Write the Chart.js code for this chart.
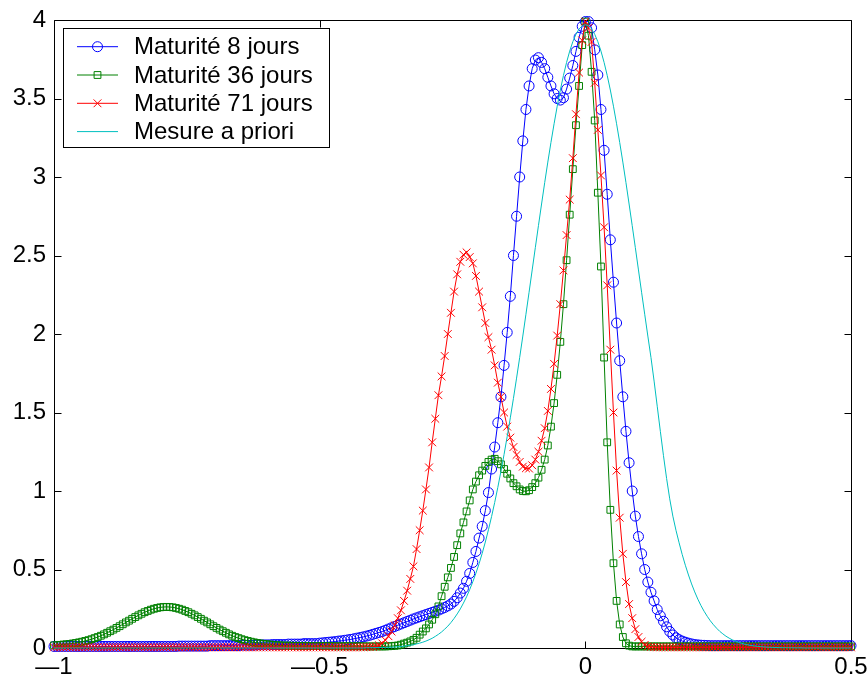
<!DOCTYPE html>
<html>
<head>
<meta charset="utf-8">
<script src="https://cdn.jsdelivr.net/npm/chart.js@4.4.0/dist/chart.umd.min.js"></script>
<style>
  html, body { margin: 0; padding: 0; background: #fff; }
  #wrap { width: 868px; height: 680px; }
</style>
</head>
<body>
<div id="wrap"><canvas id="chart" width="868" height="680"></canvas></div>
<script>
const FONT = '"Liberation Sans", Arial, Helvetica, sans-serif';

// sampling grid: 256 points from -1 to 0.5
const N = 256;
const xs = Array.from({ length: N }, (_, i) => -1 + i * 1.5 / (N - 1));

const xTicks = [-1, -0.5, 0, 0.5];
const yTicks = [0, 0.5, 1, 1.5, 2, 2.5, 3, 3.5, 4];

const seriesLabels = ['Maturité 8 jours', 'Maturité 36 jours', 'Maturité 71 jours', 'Mesure a priori'];

// Maturité 8 jours
const blue = [
  0.01, 0.01, 0.01, 0.01, 0.01, 0.01, 0.01, 0.01, 0.01, 0.01,
  0.01, 0.01, 0.01, 0.01, 0.01, 0.01, 0.01, 0.01, 0.01, 0.01,
  0.01, 0.01, 0.01, 0.01, 0.01, 0.01, 0.01, 0.01, 0.01, 0.01,
  0.01, 0.01, 0.01, 0.01, 0.01, 0.01, 0.01, 0.01, 0.01, 0.01,
  0.012, 0.012, 0.012, 0.012, 0.012, 0.012, 0.012, 0.012, 0.012, 0.012,
  0.015, 0.015, 0.015, 0.015, 0.015, 0.015, 0.015, 0.015, 0.015, 0.015,
  0.018, 0.018, 0.018, 0.018, 0.018, 0.02, 0.02, 0.02, 0.02, 0.02,
  0.022, 0.022, 0.022, 0.022, 0.022, 0.025, 0.025, 0.025, 0.025, 0.025,
  0.028, 0.028, 0.028, 0.028, 0.028, 0.031, 0.033, 0.035, 0.037, 0.039,
  0.041, 0.044, 0.046, 0.049, 0.052, 0.055, 0.059, 0.063, 0.067, 0.071,
  0.076, 0.081, 0.087, 0.093, 0.099, 0.105, 0.113, 0.121, 0.129, 0.137,
  0.145, 0.153, 0.161, 0.169, 0.177, 0.185, 0.192, 0.199, 0.206, 0.213,
  0.22, 0.227, 0.234, 0.241, 0.249, 0.258, 0.268, 0.28, 0.297, 0.32,
  0.35, 0.38, 0.425, 0.475, 0.545, 0.615, 0.70, 0.775, 0.875, 0.99,
  1.14, 1.28, 1.435, 1.60, 1.80, 2.01, 2.24, 2.50, 2.75, 3.00,
  3.23, 3.43, 3.58, 3.69, 3.745, 3.76, 3.73, 3.69, 3.635, 3.58,
  3.53, 3.50, 3.49, 3.505, 3.56, 3.63, 3.71, 3.80, 3.89, 3.96,
  3.99, 3.99, 3.95, 3.81, 3.65, 3.43, 3.17, 2.89, 2.60, 2.33,
  2.07, 1.83, 1.60, 1.38, 1.18, 1.00, 0.84, 0.71, 0.60, 0.50,
  0.42, 0.355, 0.30, 0.245, 0.205, 0.17, 0.135, 0.105, 0.083, 0.065,
  0.053, 0.044, 0.037, 0.031, 0.026, 0.022, 0.02, 0.018, 0.017, 0.016,
  0.015, 0.015, 0.015, 0.015, 0.015, 0.015, 0.015, 0.015, 0.015, 0.015,
  0.015, 0.015, 0.015, 0.015, 0.015, 0.015, 0.015, 0.015, 0.015, 0.015,
  0.015, 0.015, 0.015, 0.015, 0.015, 0.015, 0.015, 0.015, 0.015, 0.015,
  0.015, 0.015, 0.015, 0.015, 0.015, 0.015, 0.015, 0.015, 0.015, 0.015,
  0.015, 0.015, 0.015, 0.015, 0.015, 0.015
];

// Maturité 36 jours
const green = [
  0.017, 0.018, 0.020, 0.022, 0.024, 0.026, 0.029, 0.032, 0.036, 0.040,
  0.045, 0.050, 0.056, 0.063, 0.070, 0.078, 0.087, 0.097, 0.107, 0.117,
  0.128, 0.139, 0.151, 0.163, 0.174, 0.186, 0.197, 0.208, 0.218, 0.228,
  0.236, 0.244, 0.250, 0.255, 0.259, 0.261, 0.262, 0.261, 0.259, 0.255,
  0.250, 0.244, 0.236, 0.228, 0.218, 0.208, 0.197, 0.186, 0.174, 0.163,
  0.151, 0.139, 0.128, 0.117, 0.107, 0.097, 0.087, 0.078, 0.070, 0.063,
  0.056, 0.050, 0.045, 0.040, 0.036, 0.032, 0.029, 0.026, 0.024, 0.022,
  0.020, 0.018, 0.017, 0.016, 0.015, 0.015, 0.014, 0.014, 0.013, 0.013,
  0.012, 0.012, 0.012, 0.012, 0.012, 0.012, 0.012, 0.012, 0.012, 0.012,
  0.011, 0.011, 0.011, 0.011, 0.011, 0.011, 0.011, 0.011, 0.011, 0.011,
  0.01, 0.01, 0.01, 0.01, 0.01, 0.01, 0.01, 0.011, 0.012, 0.014,
  0.016, 0.021, 0.028, 0.034, 0.042, 0.052, 0.065, 0.085, 0.105, 0.125,
  0.15, 0.18, 0.215, 0.265, 0.33, 0.39, 0.45, 0.51, 0.58, 0.655,
  0.73, 0.80, 0.87, 0.94, 1.01, 1.06, 1.10, 1.13, 1.16, 1.185,
  1.20, 1.205, 1.19, 1.17, 1.14, 1.11, 1.08, 1.05, 1.03, 1.01,
  1.0, 0.998, 1.005, 1.025, 1.05, 1.085, 1.135, 1.20, 1.29, 1.41,
  1.56, 1.74, 1.95, 2.19, 2.47, 2.76, 3.05, 3.33, 3.58, 3.84,
  3.99, 3.90, 3.67, 3.36, 2.90, 2.43, 1.85, 1.31, 0.88, 0.54,
  0.30, 0.15, 0.07, 0.03, 0.015, 0.01, 0.01, 0.01, 0.01, 0.01,
  0.01, 0.01, 0.01, 0.01, 0.01, 0.01, 0.01, 0.01, 0.01, 0.01,
  0.01, 0.01, 0.01, 0.01, 0.01, 0.01, 0.01, 0.01, 0.01, 0.01,
  0.01, 0.01, 0.01, 0.01, 0.01, 0.01, 0.01, 0.01, 0.01, 0.01,
  0.01, 0.01, 0.01, 0.01, 0.01, 0.01, 0.01, 0.01, 0.01, 0.01,
  0.01, 0.01, 0.01, 0.01, 0.01, 0.01, 0.01, 0.01, 0.01, 0.01,
  0.01, 0.01, 0.01, 0.01, 0.01, 0.01, 0.01, 0.01, 0.01, 0.01,
  0.01, 0.01, 0.01, 0.01, 0.01, 0.01
];

// Maturité 71 jours
const red = [
  0.004, 0.004, 0.004, 0.004, 0.004, 0.004, 0.004, 0.004, 0.004, 0.004,
  0.004, 0.004, 0.004, 0.004, 0.004, 0.004, 0.004, 0.004, 0.004, 0.004,
  0.004, 0.004, 0.004, 0.004, 0.004, 0.004, 0.004, 0.004, 0.004, 0.004,
  0.004, 0.004, 0.004, 0.004, 0.004, 0.004, 0.004, 0.004, 0.004, 0.004,
  0.004, 0.004, 0.004, 0.004, 0.004, 0.004, 0.004, 0.004, 0.004, 0.004,
  0.004, 0.004, 0.004, 0.004, 0.004, 0.004, 0.004, 0.004, 0.004, 0.004,
  0.004, 0.004, 0.004, 0.004, 0.004, 0.004, 0.004, 0.004, 0.004, 0.004,
  0.004, 0.004, 0.004, 0.004, 0.004, 0.004, 0.004, 0.004, 0.004, 0.004,
  0.004, 0.004, 0.004, 0.004, 0.004, 0.004, 0.004, 0.004, 0.004, 0.004,
  0.004, 0.004, 0.004, 0.004, 0.004, 0.004, 0.004, 0.004, 0.004, 0.004,
  0.005, 0.006, 0.007, 0.01, 0.018, 0.03, 0.05, 0.075, 0.105, 0.145,
  0.19, 0.24, 0.30, 0.365, 0.44, 0.52, 0.63, 0.75, 0.875, 1.01,
  1.15, 1.31, 1.46, 1.61, 1.73, 1.86, 2.0, 2.135, 2.27, 2.38,
  2.46, 2.505, 2.52, 2.49, 2.45, 2.37, 2.27, 2.17, 2.07, 1.98,
  1.90, 1.80, 1.69, 1.60, 1.50, 1.41, 1.34, 1.28, 1.23, 1.185,
  1.155, 1.145, 1.143, 1.164, 1.20, 1.25, 1.32, 1.40, 1.51, 1.65,
  1.81, 1.99, 2.19, 2.405, 2.63, 2.856, 3.12, 3.40, 3.665, 3.87,
  3.99, 3.95, 3.86, 3.60, 3.30, 3.01, 2.68, 2.31, 1.90, 1.50,
  1.13, 0.83, 0.60, 0.42, 0.28, 0.19, 0.12, 0.07, 0.04, 0.02,
  0.01, 0.007, 0.005, 0.004, 0.004, 0.004, 0.004, 0.004, 0.004, 0.004,
  0.004, 0.004, 0.004, 0.004, 0.004, 0.004, 0.004, 0.004, 0.004, 0.004,
  0.004, 0.004, 0.004, 0.004, 0.004, 0.004, 0.004, 0.004, 0.004, 0.004,
  0.004, 0.004, 0.004, 0.004, 0.004, 0.004, 0.004, 0.004, 0.004, 0.004,
  0.004, 0.004, 0.004, 0.004, 0.004, 0.004, 0.004, 0.004, 0.004, 0.004,
  0.004, 0.004, 0.004, 0.004, 0.004, 0.004, 0.004, 0.004, 0.004, 0.004,
  0.004, 0.004, 0.004, 0.004, 0.004, 0.004
];

// Mesure a priori
const cyan = [
  0, 0, 0, 0, 0, 0, 0, 0, 0, 0,
  0, 0, 0, 0, 0, 0, 0, 0, 0, 0,
  0, 0, 0, 0, 0, 0, 0, 0, 0, 0,
  0, 0, 0, 0, 0, 0, 0, 0, 0, 0,
  0, 0, 0, 0, 0, 0, 0, 0, 0, 0,
  0, 0, 0, 0, 0, 0, 0, 0, 0, 0,
  0, 0, 0, 0, 0, 0, 0, 0, 0, 0,
  0, 0, 0, 0, 0, 0, 0, 0, 0, 0,
  0, 0, 0, 0, 0, 0, 0, 0, 0, 0,
  0, 0, 0, 0, 0, 0, 0, 0, 0, 0,
  0.0015, 0.0018, 0.0022, 0.0026, 0.003, 0.0035, 0.004, 0.0045, 0.005, 0.006,
  0.0078, 0.0096, 0.0118, 0.0144, 0.0175, 0.021, 0.026, 0.031, 0.037, 0.044,
  0.0525, 0.062, 0.074, 0.087, 0.102, 0.120, 0.139, 0.162, 0.188, 0.217,
  0.249, 0.286, 0.326, 0.372, 0.422, 0.477, 0.537, 0.603, 0.675, 0.753,
  0.837, 0.927, 1.023, 1.125, 1.233, 1.347, 1.466, 1.590, 1.719, 1.851,
  1.987, 2.126, 2.266, 2.408, 2.550, 2.690, 2.828, 2.964, 3.095, 3.220,
  3.339, 3.451, 3.554, 3.647, 3.730, 3.802, 3.862, 3.909, 3.943, 3.963,
  3.97, 3.963, 3.943, 3.909, 3.862, 3.802, 3.730, 3.647, 3.554, 3.451,
  3.339, 3.220, 3.095, 2.964, 2.828, 2.690, 2.550, 2.408, 2.266, 2.126,
  1.987, 1.851, 1.70, 1.54, 1.38, 1.225, 1.08, 0.95, 0.84, 0.75,
  0.67, 0.595, 0.527, 0.465, 0.408, 0.357, 0.311, 0.270, 0.234, 0.202,
  0.173, 0.148, 0.126, 0.106, 0.090, 0.075, 0.063, 0.052, 0.044, 0.036,
  0.030, 0.024, 0.020, 0.016, 0.013, 0.011, 0.009, 0.007, 0.0055, 0.0045,
  0.0035, 0.003, 0.0025, 0.002, 0.002, 0.0015, 0.0015, 0.001, 0.001, 0.001,
  0, 0, 0, 0, 0, 0, 0, 0, 0, 0,
  0, 0, 0, 0, 0, 0
];

const toPoints = ys => xs.map((x, i) => ({ x, y: ys[i] }));
// MATLAB draws the minus sign as a long dash
const fmt = v => (v < 0 ? '\u2014' + Math.abs(v) : String(v));

function series(label, values, color, style, radius, order) {
  return {
    label,
    data: toPoints(values),
    borderColor: color,
    backgroundColor: 'rgba(0,0,0,0)',
    borderWidth: 1,
    pointStyle: style,
    pointRadius: radius,
    pointBorderColor: color,
    pointBackgroundColor: 'rgba(0,0,0,0)',
    pointBorderWidth: 1,
    tension: 0,
    clip: false,
    order
  };
}

// box with inward ticks on all four sides
const axesBox = {
  id: 'axesBox',
  beforeDatasetsDraw(chart) {
    const { ctx, chartArea: a, scales } = chart;
    const len = 7;
    ctx.save();
    ctx.strokeStyle = '#000';
    ctx.lineWidth = 1;
    ctx.beginPath();
    const L = Math.round(a.left) + 0.5, R = Math.round(a.right) + 0.5;
    const T = Math.round(a.top) + 0.5, B = Math.round(a.bottom) + 0.5;
    ctx.rect(L, T, R - L, B - T);
    xTicks.forEach(v => {
      const px = Math.round(scales.x.getPixelForValue(v)) + 0.5;
      ctx.moveTo(px, B); ctx.lineTo(px, B - len);
      ctx.moveTo(px, T); ctx.lineTo(px, T + len);
    });
    yTicks.forEach(v => {
      const py = Math.round(scales.y.getPixelForValue(v)) + 0.5;
      ctx.moveTo(L, py); ctx.lineTo(L + len, py);
      ctx.moveTo(R, py); ctx.lineTo(R - len, py);
    });
    ctx.stroke();
    ctx.restore();
  }
};

// legend box in the upper left corner of the axes
const legendBox = {
  id: 'legendBox',
  afterDraw(chart) {
    const { ctx } = chart;
    const left = 63.5, top = 28.5, width = 266, height = 119;
    const rowH = 28.3, firstRow = 46.7;
    ctx.save();
    ctx.fillStyle = '#fff';
    ctx.fillRect(left, top, width, height);
    ctx.strokeStyle = '#000';
    ctx.lineWidth = 1;
    ctx.strokeRect(left, top, width, height);
    ctx.font = '24px ' + FONT;
    ctx.textBaseline = 'middle';
    ctx.textAlign = 'left';
    const ordered = [0, 1, 2, 3].map(k => chart.data.datasets.find(d => d.label === seriesLabels[k]));
    ordered.forEach((ds, k) => {
      const y = firstRow + k * rowH;
      ctx.strokeStyle = ds.borderColor;
      ctx.lineWidth = 1;
      ctx.beginPath();
      ctx.moveTo(77, y);
      ctx.lineTo(118, y);
      ctx.stroke();
      if (ds.pointRadius > 0) {
        ctx.fillStyle = 'rgba(0,0,0,0)';
        Chart.helpers.drawPoint(ctx, {
          pointStyle: ds.pointStyle, radius: ds.pointRadius, rotation: 0, borderWidth: 1
        }, 97.5, y);
      }
      ctx.fillStyle = '#000';
      ctx.fillText(ds.label, 134, y + 1);
    });
    ctx.restore();
  }
};

new Chart(document.getElementById('chart'), {
  type: 'line',
  data: {
    datasets: [
      series(seriesLabels[3], cyan, '#00bfbf', false, 0, 0),
      series(seriesLabels[2], red, '#ff0000', 'crossRot', 5.5, 1),
      series(seriesLabels[1], green, '#008000', 'rect', 4.8, 2),
      series(seriesLabels[0], blue, '#0000ff', 'circle', 5, 3)
    ]
  },
  options: {
    responsive: false,
    animation: false,
    events: [],
    layout: { padding: { top: 20, right: 17, left: 0, bottom: 0 } },
    plugins: { legend: { display: false }, tooltip: { enabled: false } },
    scales: {
      x: {
        type: 'linear',
        min: -1,
        max: 0.5,
        afterBuildTicks: s => { s.ticks = xTicks.map(v => ({ value: v })); },
        afterFit: s => { s.height = 32; s.paddingLeft = 0; s.paddingRight = 0; },
        grid: { display: false, drawTicks: false },
        border: { display: false },
        ticks: {
          color: '#000',
          padding: 5,
          maxRotation: 0,
          font: { family: FONT, size: 24 },
          callback: v => fmt(v)
        }
      },
      y: {
        type: 'linear',
        min: 0,
        max: 4,
        afterBuildTicks: s => { s.ticks = yTicks.map(v => ({ value: v })); },
        afterFit: s => { s.width = 54; s.paddingTop = 0; s.paddingBottom = 0; },
        grid: { display: false, drawTicks: false },
        border: { display: false },
        ticks: {
          color: '#000',
          padding: 8,
          font: { family: FONT, size: 24 },
          callback: v => fmt(v)
        }
      }
    }
  },
  plugins: [axesBox, legendBox]
});
</script>
</body>
</html>
